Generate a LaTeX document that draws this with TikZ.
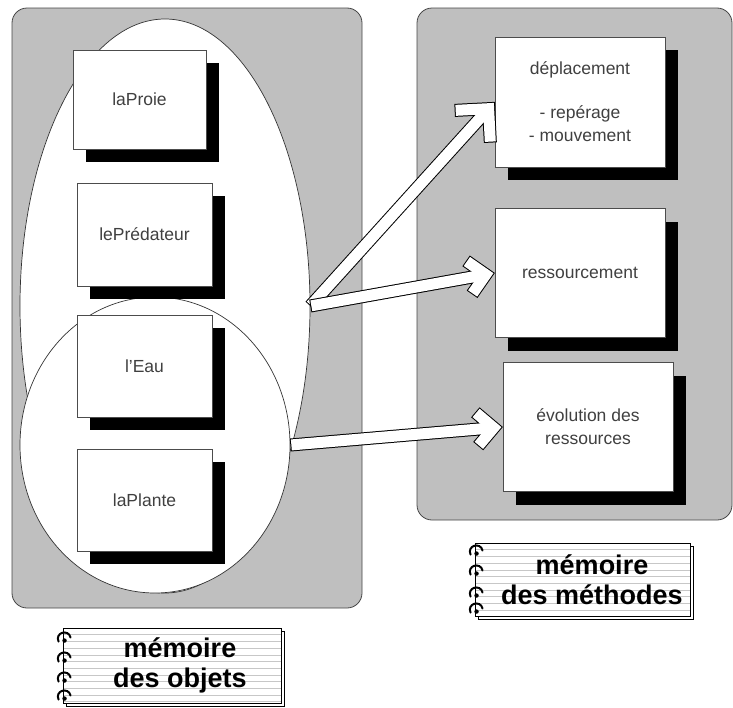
\documentclass[tikz,border=0pt]{standalone}
\usepackage{fontspec}
\setmainfont{Liberation Sans}
\usetikzlibrary{calc,shapes.geometric,shadows}

\definecolor{panelgray}{RGB}{191,191,191}
\definecolor{edgegray}{RGB}{70,70,70}

% hollow white arrow with an open chevron head: #1 start, #2 tip, #3 arm length
\newcommand\hollowarrow[3]{%
  \coordinate (ap) at ($(#2)!9pt!(#1)$);
  \coordinate (wa) at ($(ap)!#3!45:(#1)$);
  \coordinate (wb) at ($(ap)!#3!-45:(#1)$);
  \draw[line width=13pt, line join=miter] (#1) -- (ap) (wa) -- (ap) -- (wb);
  \draw[white, line width=11pt, shorten <=1pt] (#1) -- (ap);
  \draw[white, line width=11pt, line join=miter, shorten <=1pt, shorten >=1pt] (wa) -- (ap) -- (wb);
}

\begin{document}
\begin{tikzpicture}[x=1pt,y=-1pt,
  panel/.style={fill=panelgray, draw=edgegray, line width=0.8pt, rounded corners=15pt},
  zone/.style={ellipse, fill=white, draw=black!80, line width=0.7pt, inner sep=0pt},
  shadowbox/.style={rectangle, fill=white, draw=black!70, line width=0.7pt,
    font=\fontsize{17.5}{23}\selectfont, text=black!75, align=center,
    drop shadow={shadow xshift=13pt, shadow yshift=-13pt, fill=black, opacity=1}},
  objbox/.style={shadowbox, minimum width=135pt, minimum height=102pt},
  methbox/.style={shadowbox, minimum width=170pt, minimum height=129pt},
  notebook/.style={rectangle, fill=white, draw=black, line width=0.9pt,
    general shadow={shadow xshift=3pt, shadow yshift=-3pt, draw=black, fill=white, line width=0.9pt},
    path picture={
      \foreach \k in {1,...,11}{
        \draw[black!22, line width=0.5pt]
          ([yshift={-\k*6.7pt}]path picture bounding box.north west) --
          ([yshift={-\k*6.7pt}]path picture bounding box.north east);
      }}},
  nbtext/.style={font=\fontsize{27}{30}\selectfont\bfseries, align=center, inner sep=0pt},
  ringline/.style={line width=2pt, line cap=round}
]
\useasboundingbox (0,0) rectangle (733,707);

% the two memory panels
\draw[panel] (12,8) rectangle (362,608);
\draw[panel] (417,8) rectangle (732,520);

% object groupings
\node[zone, minimum width=290pt, minimum height=574pt] (allobj) at (165,306) {};
\node[zone, minimum width=270pt, minimum height=296pt] (resobj) at (155,445) {};

% objects
\node[objbox, minimum width=133pt, minimum height=99pt] (proie) at (139.5,99.5) {laProie};
\node[objbox, minimum height=103pt] (pred) at (144.5,234.5) {lePrédateur};
\node[objbox] (eau) at (144.5,366) {l'Eau};
\node[objbox] (plante) at (144.5,500) {laPlante};

% methods
\node[methbox, minimum height=130pt] (dep) at (580,102)
  {déplacement\\[21pt]- repérage\\- mouvement};
\node[methbox] (res) at (580,273) {ressourcement};
\node[methbox] (evo) at (588,427) {évolution des\\ressources};

% links from the object groups to the methods
\hollowarrow{allobj.east}{dep.west}{34pt}
\hollowarrow{allobj.east}{res.west}{24pt}
\hollowarrow{resobj.east}{evo.west}{24pt}

% notebook captions
\node[notebook, minimum width=218pt, minimum height=75pt] (memobj) at (172,665.5) {};
\node[nbtext] (memobjtxt) at ([xshift=8pt]memobj.center) {mémoire\\des objets};
\node[notebook, minimum width=215pt, minimum height=73pt] (memmeth) at (582.5,579.5) {};
\node[nbtext] (memmethtxt) at ([xshift=9.5pt]memmeth.center) {mémoire\\des méthodes};

% spiral rings of the notebooks
\foreach \nb/\offs in {memobj/{9,29,49,67}, memmeth/{7,27,49,65}}{
  \foreach \o in \offs{
    \draw[ringline] ([shift={(-4,\o+5)}]\nb.north west)
      .. controls ([shift={(-8,\o-4)}]\nb.north west) and ([shift={(6,\o-8)}]\nb.north west)
      .. ([shift={(8,\o+1)}]\nb.north west);
    \fill ([shift={(2,\o+4)}]\nb.north west) circle (2.2pt);
  }
}
\end{tikzpicture}
\end{document}
